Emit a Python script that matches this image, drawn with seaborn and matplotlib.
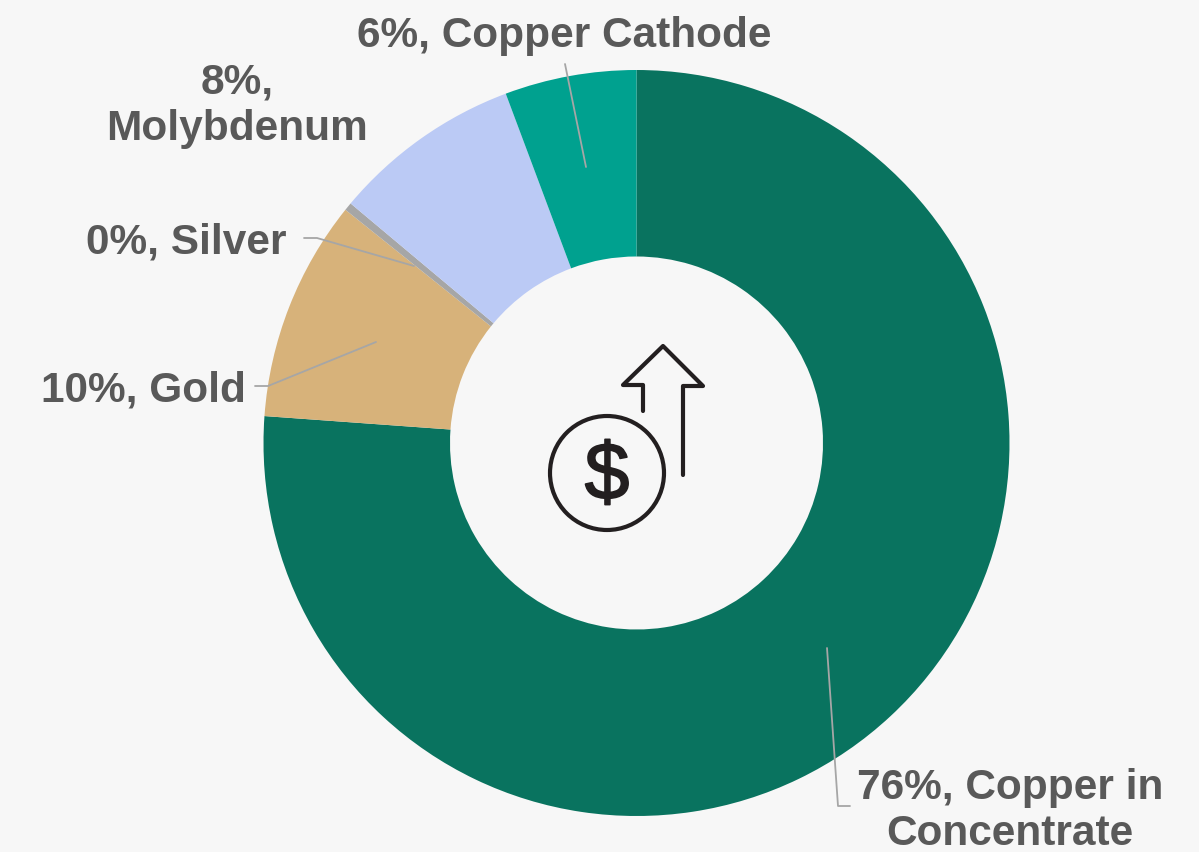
import seaborn as sns
from matplotlib import pyplot as plt
from matplotlib.patches import Circle
from matplotlib import patheffects as pe

## Data
segments = ['Copper in Concentrate', 'Gold', 'Silver', 'Molybdenum', 'Copper Cathode']
shares = [76.15, 9.6, 0.35, 8.2, 5.7]
label_texts = ['76%, Copper in\nConcentrate', '10%, Gold', '0%, Silver', '8%,\nMolybdenum', '6%, Copper Cathode']
colours = ['#09735F', '#D7B27A', '#A6A6A6', '#BBCAF5', '#00A18F']

BG = '#F7F7F7'
TEXT = '#595959'
LINE = '#A6A6A6'
H = 852

sns.set_theme(style='white')
plt.rcParams['font.family'] = ['Liberation Sans', 'DejaVu Sans']


# Everything is placed in picture pixels, y measured from the top
def py(y):
    return H - y


fig = plt.figure(figsize=(11.99, 8.52), dpi=100, facecolor=BG)
ax = fig.add_axes([0, 0, 1, 1])
ax.pie(shares, colors=sns.color_palette(colours), startangle=90, counterclock=False,
       center=(636.5, py(443)), radius=373, wedgeprops={'width': 186.5, 'linewidth': 0})
ax.set_xlim(0, 1199)
ax.set_ylim(0, H)
ax.set_aspect('equal')
ax.axis('off')

# Labels
label_pos = [(1010, 811), (143.5, 390), (186.5, 243), (237, 106), (564.5, 36)]
for txt, (x, y) in zip(label_texts, label_pos):
    ax.text(x, py(y), txt, ha='center', va='center', fontsize=30.5, fontweight='bold',
            color=TEXT, linespacing=1.2)

# Leader lines
leaders = [
    ([827, 838, 850], [648, 806, 806]),
    ([255, 268, 376], [386, 386, 342]),
    ([304, 317, 414], [238, 238, 266]),
    ([565, 586], [64, 167]),
]
for xs, ys in leaders:
    ax.plot(xs, [py(v) for v in ys], color=LINE, lw=1.3, solid_joinstyle='round')

# Dollar icon in the hole
ICON = '#231F20'
arrow_x = [643, 643, 623, 663, 703, 683, 683]
arrow_y = [411, 385, 385, 346, 386, 386, 475]
ax.plot(arrow_x, [py(v) for v in arrow_y], color=ICON, lw=3.0, solid_capstyle='round',
        solid_joinstyle='round')
ax.add_patch(Circle((607, py(473)), 57, fill=False, edgecolor=ICON, lw=3.0))
ax.text(607, py(478), '$', ha='center', va='center', fontsize=58, color=ICON,
        path_effects=[pe.withStroke(linewidth=1.2, foreground=ICON)])

fig.savefig('out.png', dpi=100, facecolor=BG)
